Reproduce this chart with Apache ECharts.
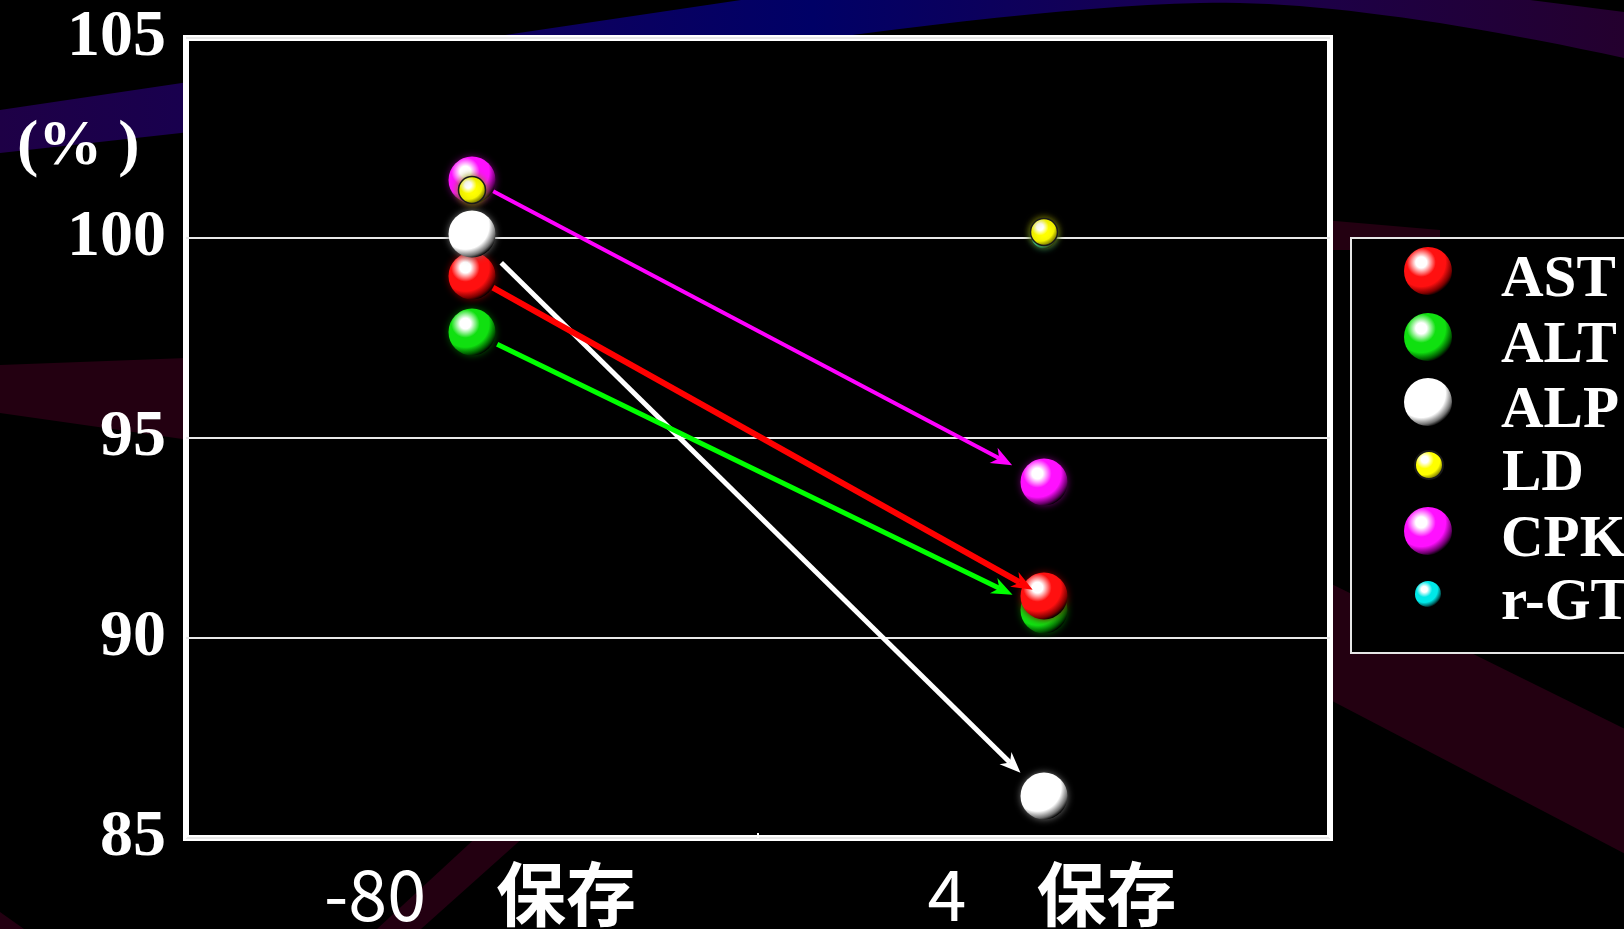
<!DOCTYPE html>
<html>
<head>
<meta charset="utf-8">
<script src="https://cdn.jsdelivr.net/npm/echarts@6/dist/echarts.min.js"></script>
<style>
  html, body { margin: 0; padding: 0; background: #000; }
  #chart { width: 1624px; height: 929px; }
</style>
</head>
<body>
<div id="chart"></div>
<script>
// storage conditions (x) and recovery in % (y)
const categories = ['-80　保存', '4　保存']
const seriesNames = ['AST', 'ALT', 'ALP', 'LD', 'CPK', 'r-GT']
const astValues = [99.05, 91.05]
const altValues = [97.65, 90.7]
const alpValues = [100.1, 86.05]
const ldValues = [101.2, 100.15]
const cpkValues = [101.45, 93.9]
const rgtValues = [100.1, 100.05]
const yTicks = [85, 90, 95, 100, 105]

const valuesByName = {
  AST: astValues,
  ALT: altValues,
  ALP: alpValues,
  LD: ldValues,
  CPK: cpkValues,
  'r-GT': rgtValues,
}

// look of each ball: base colour, dark rim, size, draw order
const ballStyle = {
  AST: { color: '#ff1010', dark: '#7a0000', size: 47, z: 4 },
  ALT: { color: '#10e010', dark: '#005a00', size: 47, z: 3 },
  ALP: { color: '#ffffff', dark: '#707070', size: 47, z: 4 },
  LD: { color: '#ffff00', dark: '#8a8a00', size: 27, z: 6, border: '#1a1a1a' },
  CPK: { color: '#ff10ff', dark: '#6a006a', size: 47, z: 3 },
  'r-GT': { color: '#00e8e8', dark: '#006060', size: 25, z: 2 },
}

const arrowStyle = [
  { name: 'CPK', color: '#ff00ff', width: 4, startGap: 24, endGap: 36 },
  { name: 'ALP', color: '#ffffff', width: 5, startGap: 41, endGap: 33 },
  { name: 'AST', color: '#ff0000', width: 6, startGap: 24, endGap: 13 },
  { name: 'ALT', color: '#00ff00', width: 5, startGap: 28, endGap: 35 },
]

const serif = 'Liberation Serif'
const gothic = 'Noto Sans CJK JP'

const ball = (s) => ({
  type: 'radial',
  x: 0.36,
  y: 0.32,
  r: 0.72,
  colorStops: [
    { offset: 0, color: '#ffffff' },
    { offset: 0.16, color: '#ffffff' },
    { offset: 0.42, color: s.color },
    { offset: 0.7, color: s.color },
    { offset: 0.9, color: s.dark },
    { offset: 1, color: '#000000' },
  ],
})

// sample a cubic bezier into polygon points (background decoration only)
const bezier = (p0, p1, p2, p3, n = 24) => {
  const pts = []
  for (let i = 0; i <= n; i++) {
    const t = i / n
    const u = 1 - t
    pts.push([
      u * u * u * p0[0] + 3 * u * u * t * p1[0] + 3 * u * t * t * p2[0] + t * t * t * p3[0],
      u * u * u * p0[1] + 3 * u * u * t * p1[1] + 3 * u * t * t * p2[1] + t * t * t * p3[1],
    ])
  }
  return pts
}

const bandPoints = [
  [0, 110],
  ...bezier([741, 0], [900, -25], [1400, -30], [1530, 0]),
  [1624, 12],
  ...bezier([1624, 58], [1450, 20], [1300, 0], [1200, 3]),
  ...bezier([1200, 3], [1000, 8], [700, 55], [181, 133]),
  [0, 153],
]

const chart = echarts.init(document.getElementById('chart'))

const scatterSeries = seriesNames.map((name) => {
  const s = ballStyle[name]
  return {
    name,
    type: 'scatter',
    z: s.z,
    symbol: 'circle',
    symbolSize: s.size,
    data: valuesByName[name].map((v, i) => [i, v]),
    itemStyle: {
      color: ball(s),
      borderColor: s.border || 'transparent',
      borderWidth: s.border ? 1.5 : 0,
      shadowBlur: 7,
      shadowColor: s.dark,
      opacity: 1,
    },
    emphasis: { disabled: true },
  }
})

const arrowSeries = arrowStyle.map((a) => {
  const vals = valuesByName[a.name]
  return {
    name: a.name + ' arrow',
    type: 'custom',
    z: 5,
    silent: true,
    encode: { x: [0, 2], y: [1, 3] },
    data: [[0, vals[0], 1, vals[1]]],
    renderItem (params, api) {
      const p1 = api.coord([api.value(0), api.value(1)])
      const p2 = api.coord([api.value(2), api.value(3)])
      const dx = p2[0] - p1[0]
      const dy = p2[1] - p1[1]
      const len = Math.hypot(dx, dy)
      const ux = dx / len
      const uy = dy / len
      const s = [p1[0] + ux * a.startGap, p1[1] + uy * a.startGap]
      const e = [p2[0] - ux * a.endGap, p2[1] - uy * a.endGap]
      const head = 21
      const half = 8.5
      const base = [e[0] - ux * head, e[1] - uy * head]
      const notch = [e[0] - ux * head * 0.7, e[1] - uy * head * 0.7]
      return {
        type: 'group',
        children: [
          {
            type: 'line',
            shape: { x1: s[0], y1: s[1], x2: notch[0], y2: notch[1] },
            style: { stroke: a.color, lineWidth: a.width },
          },
          {
            type: 'polygon',
            shape: {
              points: [
                e,
                [base[0] - uy * half, base[1] + ux * half],
                notch,
                [base[0] + uy * half, base[1] - ux * half],
              ],
            },
            style: { fill: a.color },
          },
        ],
      }
    },
  }
})

// one legend per entry, the small balls get a small icon
const legendCenters = [271, 337, 402, 466, 531, 595]
const legends = seriesNames.map((name, i) => {
  const size = ballStyle[name].size + 1
  return {
    data: [name],
    orient: 'vertical',
    selectedMode: false,
    left: 1423 - size / 2,
    top: legendCenters[i] - (size > 30 ? 29 : 25.5),
    itemWidth: size,
    itemHeight: size,
    itemGap: 0,
    z: 6,
    formatter: '{t|{name}}',
    textStyle: {
      rich: {
        t: {
          color: '#fff',
          fontFamily: serif,
          fontWeight: 'bold',
          fontSize: 59,
          padding: [20, 0, 0, 1496 - (1423 + size / 2) - 5],
        },
      },
    },
  }
})

const bandFill = {
  type: 'linear',
  x: 0,
  y: 0,
  x2: 1624,
  y2: 0,
  global: true,
  colorStops: [
    { offset: 0, color: '#1e0046' },
    { offset: 0.3, color: '#10005c' },
    { offset: 0.5, color: '#000066' },
    { offset: 0.74, color: '#1a0050' },
    { offset: 1, color: '#24002e' },
  ],
}

const maroon = '#230011'

const option = {
  backgroundColor: '#000',
  animation: false,
  title: {
    text: '(% )',
    left: 12,
    top: 110,
    textStyle: {
      color: '#fff',
      fontFamily: serif,
      fontWeight: 'bold',
      fontSize: 64,
    },
  },
  graphic: {
    elements: [
      { type: 'polygon', z: -10, silent: true, shape: { points: bandPoints }, style: { fill: bandFill } },
      { type: 'polygon', z: -10, silent: true, shape: { points: [[0, 365], [400, 350], [400, 470], [0, 413]] }, style: { fill: maroon } },
      { type: 'polygon', z: -10, silent: true, shape: { points: [[1300, 218], [1440, 230], [1440, 250], [1300, 250]] }, style: { fill: maroon } },
      { type: 'polygon', z: -10, silent: true, shape: { points: [[1200, 519], [1700, 766], [1700, 893], [1200, 632]] }, style: { fill: maroon } },
      { type: 'polygon', z: -10, silent: true, shape: { points: [[560, 760], [610, 760], [421, 929], [377, 929]] }, style: { fill: maroon } },
      { type: 'polygon', z: -10, silent: true, shape: { points: [[0, 912], [24, 929], [0, 929]] }, style: { fill: maroon } },
      {
        type: 'rect',
        z: 1,
        silent: true,
        shape: { x: 1351, y: 238, width: 400, height: 415 },
        style: { fill: '#000', stroke: '#e6e6e6', lineWidth: 2 },
      },
    ],
  },
  grid: {
    left: 186,
    top: 38,
    width: 1144,
    height: 803,
    show: true,
    backgroundColor: '#000',
    borderColor: '#fff',
    borderWidth: 6,
  },
  legend: legends,
  xAxis: {
    type: 'category',
    data: categories,
    boundaryGap: true,
    axisLine: { show: false },
    axisTick: { show: true, inside: true, length: 5, lineStyle: { color: '#fff', width: 2 } },
    axisLabel: {
      color: '#fff',
      margin: 21,
      padding: [0, 0, 0, 16],
      formatter: (v) => {
        const [num, word] = v.split('　')
        return `{n|${num}}{k|${word}}`
      },
      rich: {
        n: { color: '#fff', fontFamily: gothic, fontSize: 70 },
        k: { color: '#fff', fontFamily: gothic, fontSize: 70, fontWeight: 'bold', padding: [0, 0, 0, 70] },
      },
    },
  },
  yAxis: {
    type: 'value',
    min: yTicks[0],
    max: yTicks[yTicks.length - 1],
    interval: yTicks[1] - yTicks[0],
    axisLine: { show: false },
    axisTick: { show: false },
    axisLabel: {
      color: '#fff',
      fontFamily: serif,
      fontWeight: 'bold',
      fontSize: 66,
      margin: 20,
    },
    splitLine: { lineStyle: { color: '#e8e8e8', width: 2 } },
  },
  series: [...scatterSeries, ...arrowSeries],
}

chart.setOption(option)
</script>
</body>
</html>
